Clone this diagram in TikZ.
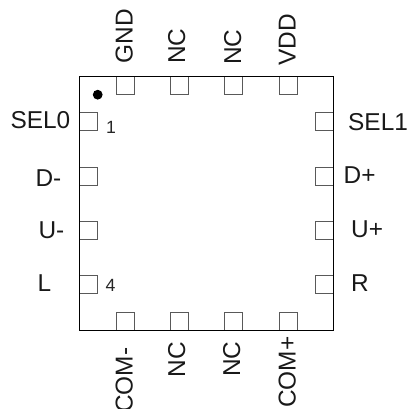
\documentclass[tikz,border=0pt]{standalone}
\usepackage{fontspec}
\setmainfont{Liberation Sans}
\tikzset{
  x=1pt,y=-1pt,
  pinlabel/.style={inner sep=0pt,font=\fontsize{24.4}{27}\selectfont,text=black!90},
  numlabel/.style={inner sep=0pt,font=\fontsize{17.7}{20}\selectfont,text=black!85},
  pad/.style={draw=black!65,line width=0.85pt,fill=white},
  body/.style={draw=black,line width=0.85pt},
}
\begin{document}
\begin{tikzpicture}
\useasboundingbox (0,0) rectangle (409,409);
\draw[body] (79.5,76.5) rectangle (333.5,330.5);
\foreach \x in {116,170.5,224.5,279}{
  \draw[pad] (\x,76.5) rectangle ++(18,18);
  \draw[pad] (\x,312.5) rectangle ++(18,18);
}
\foreach \y in {112.5,167,221,275.5}{
  \draw[pad] (79.5,\y) rectangle ++(18,18);
  \draw[pad] (315.5,\y) rectangle ++(18,18);
}
\draw[body] (79.5,76.5) rectangle (333.5,330.5);
\fill[black] (97.7,94.7) circle (4.9);
% left labels
\node[pinlabel,anchor=base east] (sel0) at (70.5,128.3) {SEL0};
\node[pinlabel,anchor=base east] (dm) at (61.5,186) {D-};
\node[pinlabel,anchor=base east] (um) at (64.5,238.3) {U-};
\node[pinlabel,anchor=base west] (l) at (37.5,291.7) {L};
% right labels
\node[pinlabel,anchor=base west] (sel1) at (348,130.7) {SEL1};
\node[pinlabel,anchor=base west] (dp) at (343.5,183.3) {D+};
\node[pinlabel,anchor=base west] (up) at (351,237.7) {U+};
\node[pinlabel,anchor=base west] (r) at (351,291.7) {R};
% numbers
\node[numlabel,anchor=base west] (n1) at (106,133) {1};
\node[numlabel,anchor=base west] (n4) at (105.5,291.7) {4};
% top labels
\node[pinlabel,rotate=90,anchor=base west] (gnd) at (132.5,63.5) {GND};
\node[pinlabel,rotate=90,anchor=base west] (nca) at (185,64) {NC};
\node[pinlabel,rotate=90,anchor=base west] (ncb) at (241,65) {NC};
\node[pinlabel,rotate=90,anchor=base west] (vdd) at (295.5,65.5) {VDD};
% bottom labels
\node[pinlabel,rotate=90,anchor=base east] (comm) at (132.5,347.5) {COM-};
\node[pinlabel,rotate=90,anchor=base east] (ncc) at (185,342) {NC};
\node[pinlabel,rotate=90,anchor=base east] (ncd) at (240,341.5) {NC};
\node[pinlabel,rotate=90,anchor=base east] (comp) at (295.5,336.5) {COM+};
\end{tikzpicture}
\end{document}
